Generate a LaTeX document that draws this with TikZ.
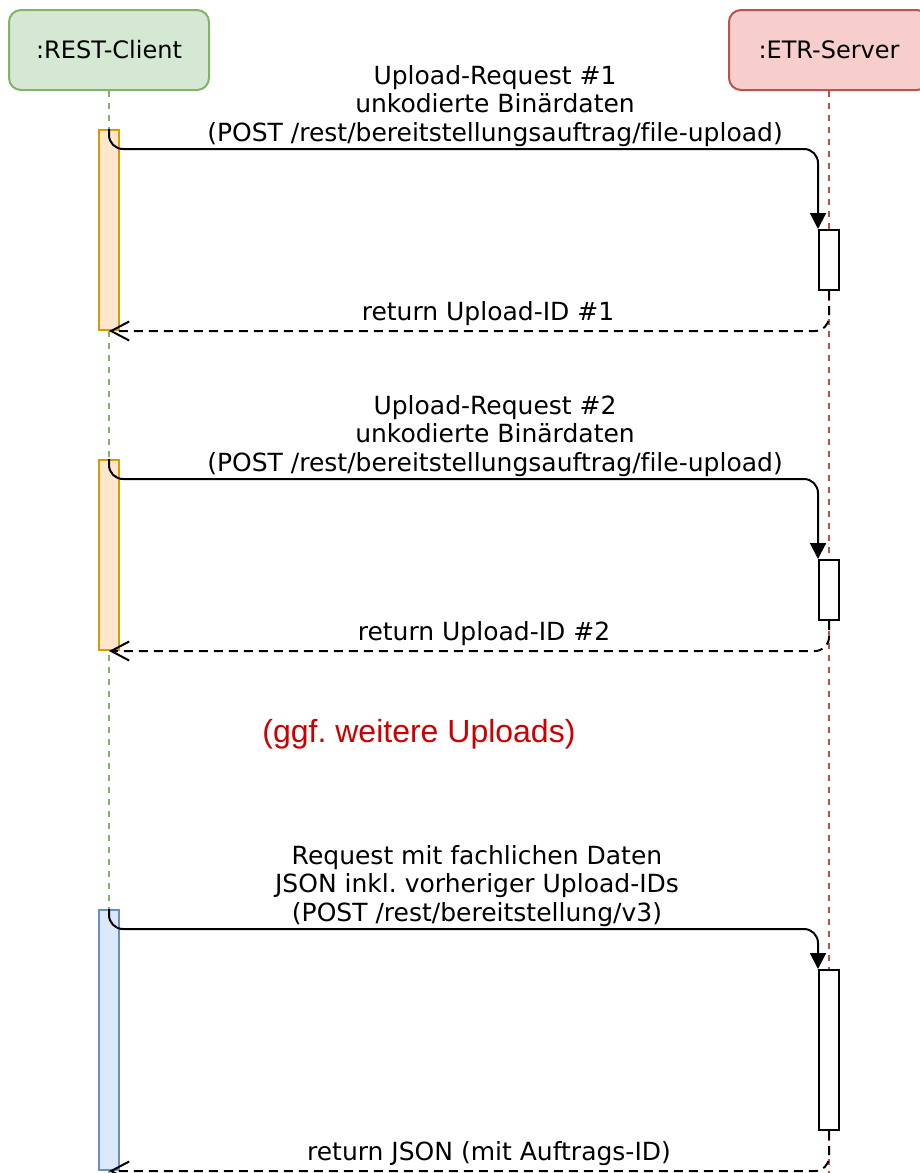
\documentclass[tikz,border=0pt]{standalone}
\usepackage{fontspec}
\setmainfont[Ligatures=NoCommon]{DejaVu Sans}
\newfontfamily\notefont{Liberation Sans}
\usetikzlibrary{arrows.meta}
\frenchspacing
\definecolor{client fill}{HTML}{D5E8D4}
\definecolor{client draw}{HTML}{82B366}
\definecolor{server fill}{HTML}{F8CECC}
\definecolor{server draw}{HTML}{B85450}
\definecolor{upload fill}{HTML}{FFE6CC}
\definecolor{upload draw}{HTML}{D79B00}
\definecolor{data fill}{HTML}{DAE8FC}
\definecolor{data draw}{HTML}{6C8EBF}
\definecolor{note color}{HTML}{CC0000}
\tikzset{
    x={1pt},
    y={-1pt},
    participant/.style 2 args={
        rectangle, rounded corners={12pt},
        fill={#1}, draw={#2},
        line width={2pt},
        minimum width={200},
        minimum height={80},
        font={\fontsize{24}{28}\selectfont},
    },
    lifeline/.style={
        draw={#1},
        line width={1.5pt},
        dash pattern=on 6pt off 6pt,
    },
    activation/.style n args={3}{
        rectangle, fill={#1}, draw={#2},
        line width={2pt},
        inner sep=0pt,
        minimum width={20},
        minimum height={#3},
    },
    call/.style={
        draw=black,
        line width={2pt},
        rounded corners={14pt},
        -{Triangle[length=16pt,width=16pt]},
    },
    reply/.style={
        draw=black,
        line width={2pt},
        rounded corners={14pt},
        dash pattern=on 9pt off 6pt,
        -{Straight Barb[length=18pt,width=19pt,line width=2pt]},
    },
    call label/.style={
        align=center,
        inner sep=0pt,
        font={\fontsize{25}{28.5}\selectfont},
    },
}

\begin{document}
\begin{tikzpicture}
\useasboundingbox (0,0) rectangle (919,1173);
% participants
\node[participant={client fill}{client draw}] (client) at (109,50) {:REST-Client};
\node[participant={server fill}{server draw}] (server) at (829,50) {:ETR-Server};
\coordinate (client end) at (109,1173);
\coordinate (server end) at (829,1173);
% lifelines
\draw[lifeline={client draw}] (client.south) -- (client end);
\draw[lifeline={server draw}] (server.south) -- (server end);
% activations
\node[activation={upload fill}{upload draw}{200}] (upload1) at (109,230) {};
\node[activation={upload fill}{upload draw}{190}] (upload2) at (109,555) {};
\node[activation={data fill}{data draw}{260}] (request3) at (109,1040) {};
\node[activation={white}{black}{60}] (handle1) at (829,260) {};
\node[activation={white}{black}{60}] (handle2) at (829,590) {};
\node[activation={white}{black}{160}] (handle3) at (829,1050) {};
% messages
\draw[call] (upload1.north) -- ++(0,20) -| (handle1.north west);
\draw[reply] (handle1.south) |- (upload1.south);
\draw[call] (upload2.north) -- ++(0,20) -| (handle2.north west);
\draw[reply] (handle2.south) |- (upload2.south);
\draw[call] (request3.north) -- ++(0,20) -| (handle3.north west);
\draw[reply] (handle3.south) |- (request3.south);
% message labels
\node[call label] (label1) at (495,106) {Upload-Request \#1\\unkodierte Binärdaten\\(POST /rest/bereitstellungsauftrag/file-upload)};
\node[call label] (return1) at (488,314) {return Upload-ID \#1};
\node[call label] (label2) at (495,436) {Upload-Request \#2\\unkodierte Binärdaten\\(POST /rest/bereitstellungsauftrag/file-upload)};
\node[call label] (return2) at (484,634) {return Upload-ID \#2};
\node[call label] (label3) at (477,886) {Request mit fachlichen Daten\\JSON inkl. vorheriger Upload-IDs\\(POST /rest/bereitstellung/v3)};
\node[call label] (return3) at (489,1154) {return JSON (mit Auftrags-ID)};
% note
\node[font={\notefont\fontsize{32}{36}\selectfont}, text=note color] (more) at (419,734) {(ggf. weitere Uploads)};
\end{tikzpicture}
\end{document}
